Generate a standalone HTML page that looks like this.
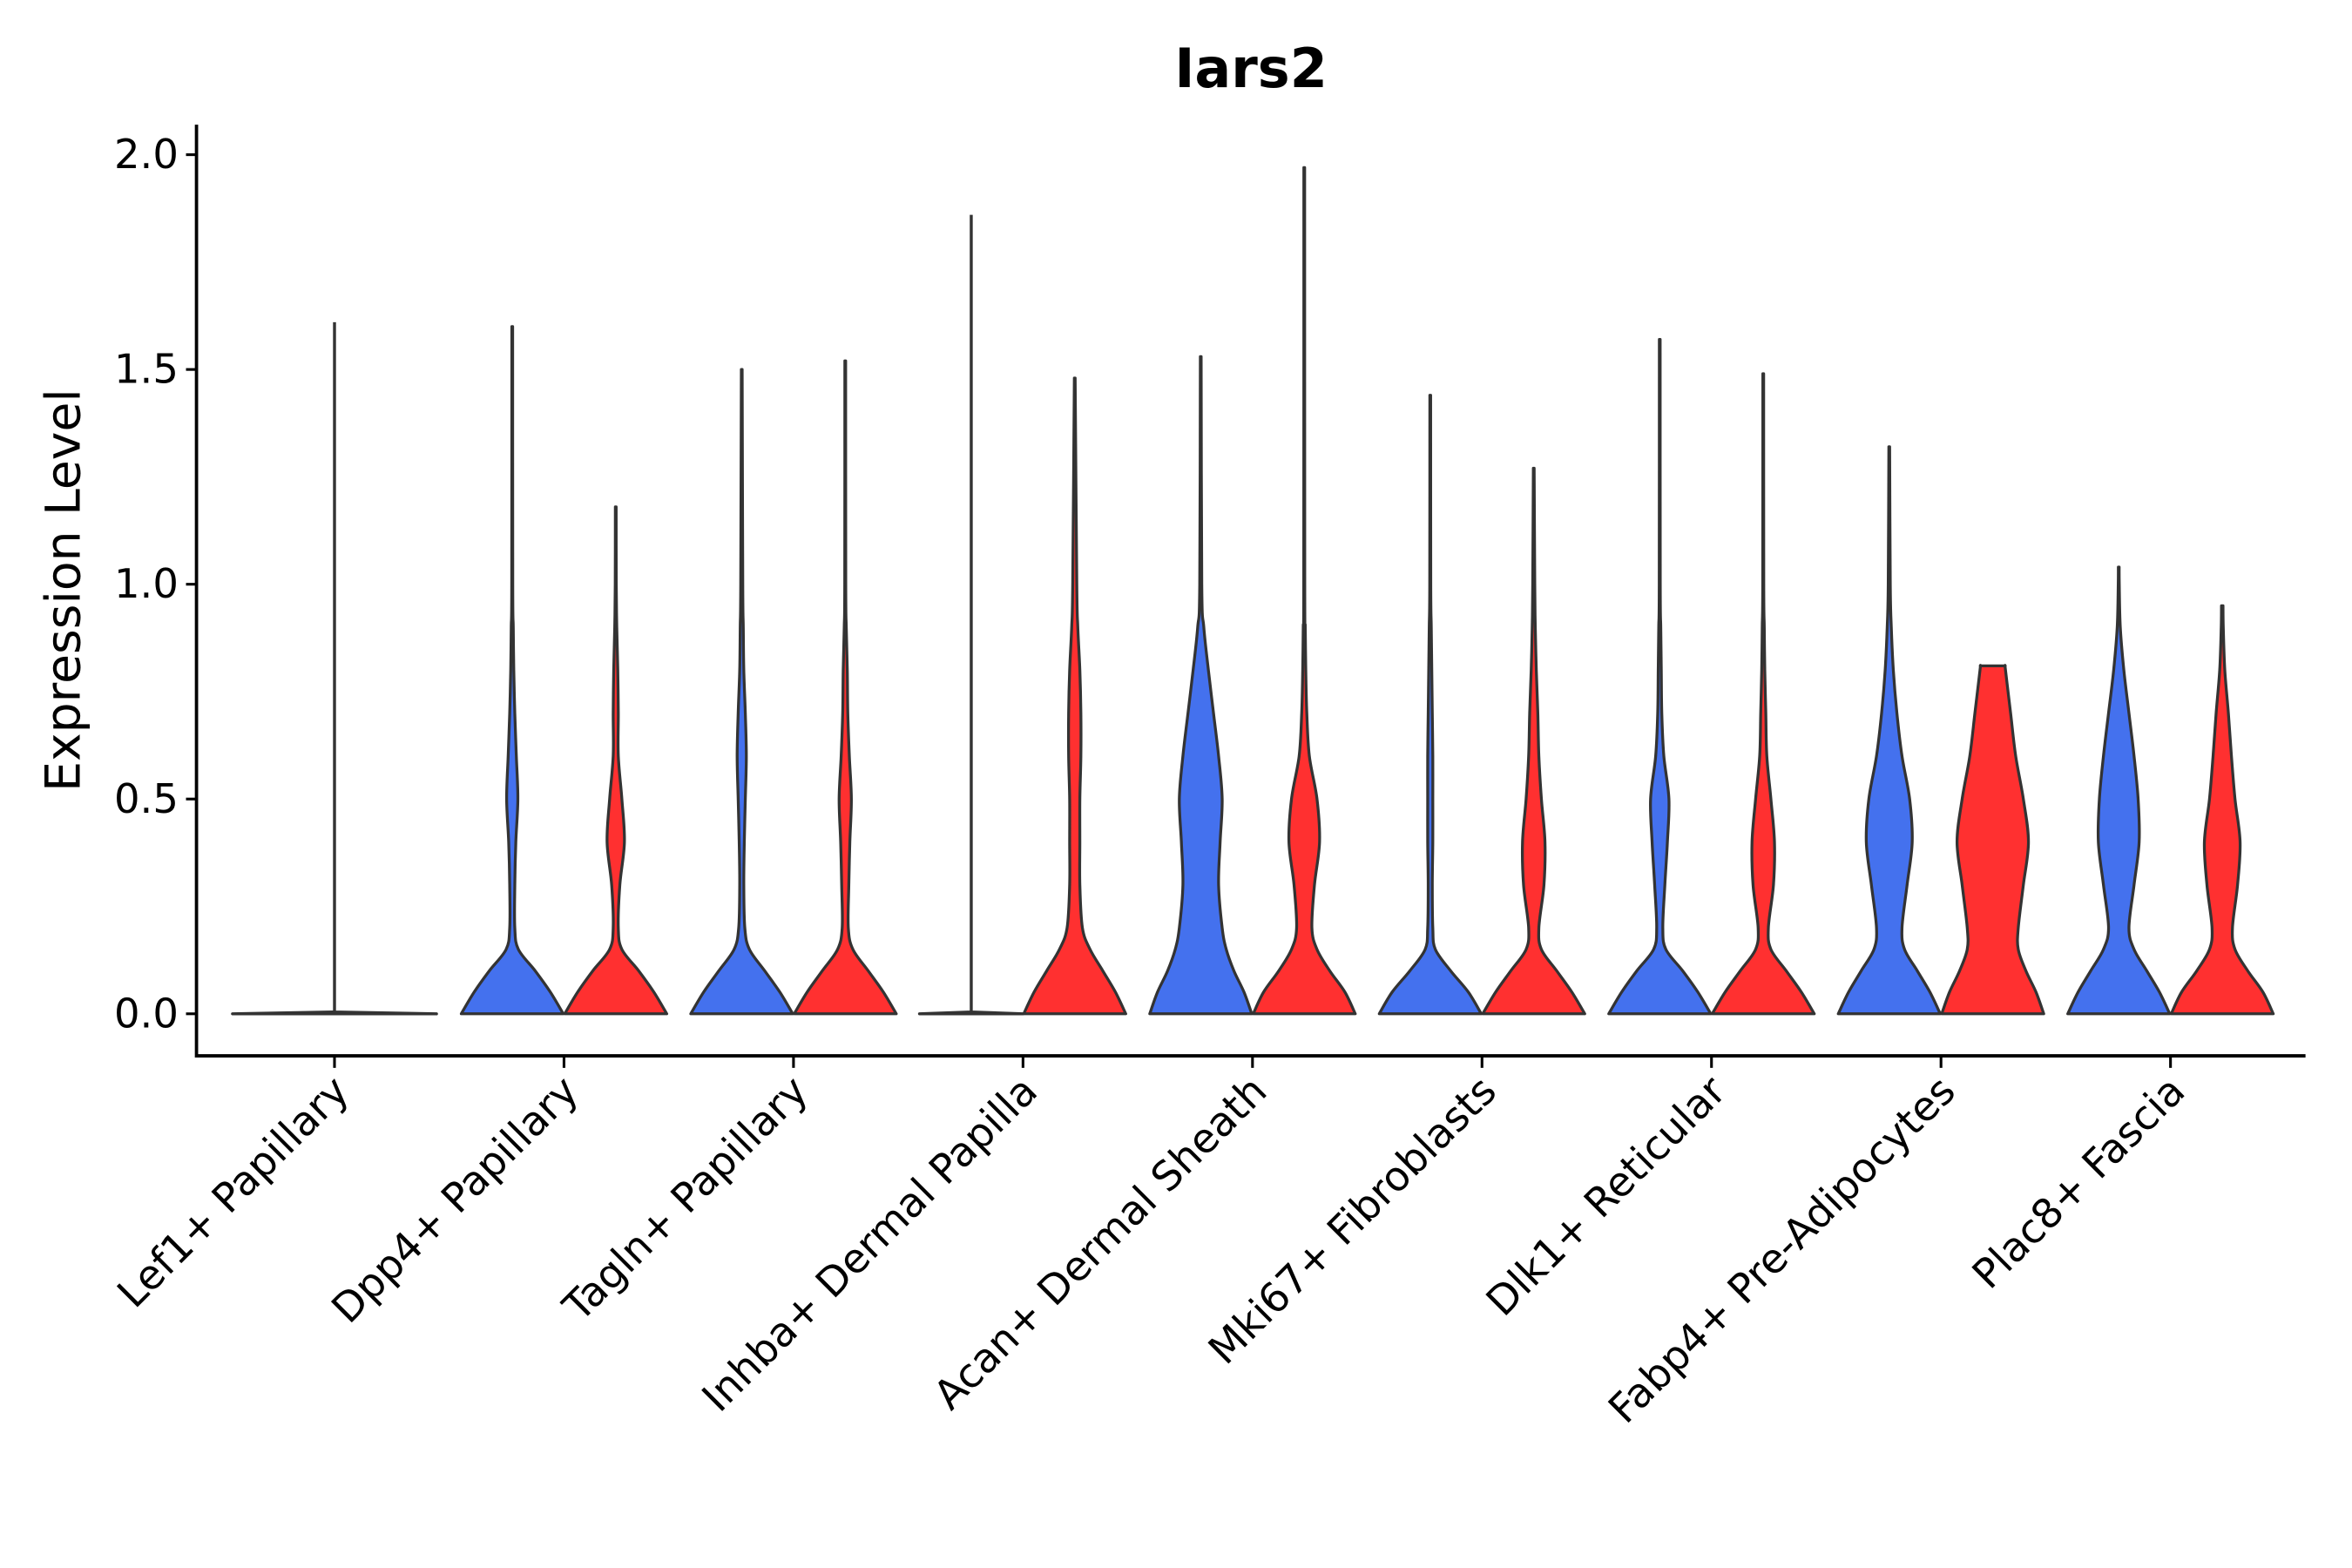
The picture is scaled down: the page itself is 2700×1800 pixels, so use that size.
<!DOCTYPE html>
<html><head><meta charset="utf-8"><style>
html,body{margin:0;padding:0;background:#fff}
svg{display:block;font-family:"DejaVu Sans","Liberation Sans",sans-serif}
</style></head><body>
<svg id="chart" width="2700" height="1800" viewBox="0 0 1568 1044" preserveAspectRatio="none" xmlns="http://www.w3.org/2000/svg">
<text x="834" y="58" text-anchor="middle" font-size="36" font-weight="bold" fill="#000">Iars2</text>
<text transform="translate(53,393) rotate(-90)" text-anchor="middle" font-size="32" fill="#000">Expression Level</text>
<g id="plot"></g>
</svg>
<script>
const categories = ["Lef1+ Papillary","Dpp4+ Papillary","Tagln+ Papillary","Inhba+ Dermal Papilla","Acan+ Dermal Sheath","Mki67+ Fibroblasts","Dlk1+ Reticular","Fabp4+ Pre-Adipocytes","Plac8+ Fascia"];
const yTicks = [0, 0.5, 1.0, 1.5, 2.0];
const yTickLabels = ["0.0","0.5","1.0","1.5","2.0"];
const levels = [0,0.05,0.1,0.15,0.2,0.3,0.4,0.5,0.6,0.7,0.8,0.9,1.0];
const blueMax = [1.61,1.60,1.50,1.86,1.53,1.44,1.57,1.32,1.04];
const blueWidths = [
 null,
 [1,0.75,0.45,0.12,0.05,0.05,0.07,0.11,0.08,0.05,0.03,0.02,0.01],
 [1,0.75,0.45,0.15,0.06,0.04,0.05,0.07,0.09,0.07,0.04,0.03,0.02],
 null,
 [1,0.85,0.65,0.5,0.42,0.35,0.38,0.42,0.35,0.25,0.15,0.06,0.02],
 [1,0.75,0.4,0.1,0.05,0.04,0.05,0.05,0.05,0.04,0.03,0.02,0.01],
 [1,0.75,0.45,0.12,0.06,0.1,0.15,0.18,0.08,0.04,0.03,0.02,0.01],
 [1,0.8,0.55,0.3,0.25,0.35,0.45,0.4,0.25,0.15,0.08,0.04,0.02],
 [1,0.8,0.55,0.3,0.2,0.3,0.4,0.38,0.3,0.2,0.1,0.03,0.01]
];
const redMax = [null,1.18,1.52,1.48,1.97,1.27,1.49,0.81,0.95];
const redWidths = [
 null,
 [1,0.75,0.45,0.12,0.05,0.08,0.17,0.12,0.05,0.05,0.04,0.02,0.01],
 [1,0.75,0.45,0.15,0.06,0.07,0.09,0.12,0.08,0.05,0.04,0.02,0.01],
 [1,0.8,0.55,0.3,0.15,0.1,0.1,0.1,0.12,0.12,0.1,0.06,0.04],
 [1,0.8,0.5,0.25,0.15,0.2,0.3,0.25,0.1,0.05,0.03,0.02,0.01],
 [1,0.75,0.45,0.15,0.1,0.2,0.22,0.15,0.1,0.08,0.05,0.03,0.02],
 [1,0.75,0.45,0.15,0.1,0.2,0.22,0.15,0.07,0.05,0.03,0.02,0.01],
 [1,0.85,0.65,0.5,0.5,0.6,0.7,0.6,0.45,0.35,0.25,0.2,0.2],
 [1,0.8,0.5,0.25,0.2,0.3,0.35,0.25,0.18,0.12,0.05,0.02,0.01]
];

const NS="http://www.w3.org/2000/svg";
const g=document.getElementById('plot');
const Y0=675, PERU=286, LEFT=131, RIGHT=1537, BOTTOM=703, TOP=83, X0=223, DX=153, OFF=34.5, HW=34;
const y=v=>Y0-v*PERU;
const x=i=>X0+i*DX;
function el(t,a){const e=document.createElementNS(NS,t);for(const k in a)e.setAttribute(k,a[k]);g.appendChild(e);return e;}

function profile(w,max){
  const pts=[];
  for(let k=0;k<levels.length;k++){
    if(levels[k]<max){pts.push([levels[k],w[k]]);} else break;
  }
  let k=pts.length;
  let wm = k<levels.length ? pts[k-1][1]+(w[k]-pts[k-1][1])*(max-levels[k-1])/(levels[k]-levels[k-1]) : 0.008;
  pts.push([max,Math.max(wm,0.008)]);
  return pts;
}
function smoothSeg(P){
  let d="";
  for(let i=0;i<P.length-1;i++){
    const p0=P[i-1]||P[i], p1=P[i], p2=P[i+1], p3=P[i+2]||P[i+1];
    const c1=[p1[0]+(p2[0]-p0[0])/6, p1[1]+(p2[1]-p0[1])/6];
    const c2=[p2[0]-(p3[0]-p1[0])/6, p2[1]-(p3[1]-p1[1])/6];
    d+=`C${c1[0].toFixed(2)},${c1[1].toFixed(2)} ${c2[0].toFixed(2)},${c2[1].toFixed(2)} ${p2[0].toFixed(2)},${p2[1].toFixed(2)} `;
  }
  return d;
}
function violinPath(cx,pts,hw){
  const L=pts.map(p=>[cx-p[1]*hw,y(p[0])]);
  const R=pts.map(p=>[cx+p[1]*hw,y(p[0])]).reverse();
  let d=`M${L[0][0].toFixed(2)},${L[0][1].toFixed(2)} `+smoothSeg(L);
  d+=`L${R[0][0].toFixed(2)},${R[0][1].toFixed(2)} `+smoothSeg(R);
  return d+"Z";
}
categories.forEach((c,i)=>{
  if(blueWidths[i]){
    const p=el('path',{d:violinPath(x(i)-OFF,profile(blueWidths[i],blueMax[i]),HW),fill:'#4471EE',stroke:'#333','stroke-width':1.9,'stroke-linejoin':'round'});
    
    
  } else {
    const single = redWidths[i]===null;
    const cx = single ? x(i) : x(i)-OFF;
    const hw = single ? 68 : 34.5;
    const p=el('path',{d:`M${cx-hw},${Y0} L${cx},${Y0-1.2} L${cx+hw},${Y0} Z M${cx},${Y0} L${cx},${y(blueMax[i])}`,fill:'#4471EE',stroke:'#333','stroke-width':2,'stroke-linejoin':'round'});
    
    
  }
  if(redWidths[i]){
    const p=el('path',{d:violinPath(x(i)+OFF,profile(redWidths[i],redMax[i]),HW),fill:'#FF3030',stroke:'#333','stroke-width':1.9,'stroke-linejoin':'round'});
    
    
  }
  const t=el('line',{x1:x(i),x2:x(i),y1:BOTTOM,y2:BOTTOM+8,stroke:'#000','stroke-width':1.8});
  
  
  const lab=el('text',{transform:`translate(${x(i)+11},${BOTTOM+25}) rotate(-45)`,'text-anchor':'end','font-size':27,fill:'#000'});
  lab.textContent=c;
  
  
});
yTicks.forEach((v,i)=>{
  const t=el('line',{x1:LEFT-7,x2:LEFT,y1:y(v),y2:y(v),stroke:'#000','stroke-width':1.8});
  
  
  const l=el('text',{x:LEFT-12,y:y(v)+9,'text-anchor':'end','font-size':27,fill:'#000'});
  l.textContent=yTickLabels[i];
  
  
});
const ax=el('path',{d:`M${LEFT},${TOP} L${LEFT},${BOTTOM} L${RIGHT},${BOTTOM}`,fill:'none',stroke:'#000','stroke-width':2.2});


</script>
</body></html>
